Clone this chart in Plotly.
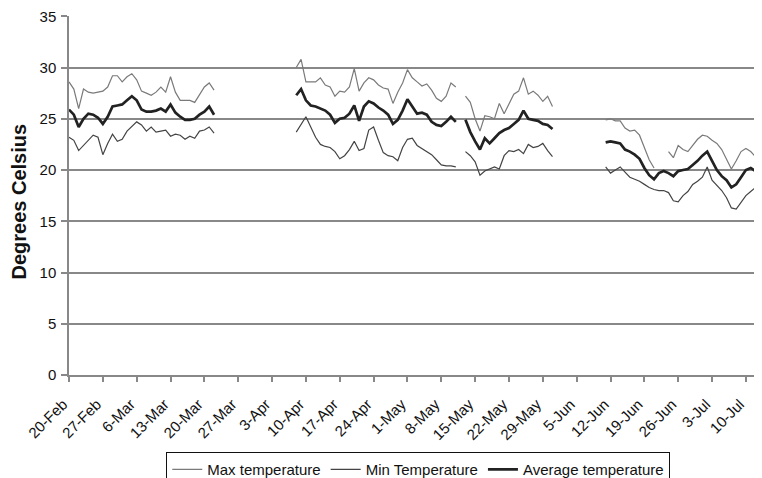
import pandas as pd
import plotly.graph_objects as go

START_DATE = "2007-02-20"

# Daily values from 20-Feb (None = no data)
MAX_TEMP = (
    [28.6, 27.9, 26.0, 27.9, 27.6, 27.5, 27.6, 27.7, 28.1, 29.2, 29.2, 28.6, 29.1, 29.4, 28.8, 27.7,
     27.5, 27.3, 27.6, 28.1, 27.6, 29.1, 27.6, 26.8, 26.8, 26.8, 26.6, 27.3, 28.1, 28.5, 27.8]
    + [None] * 16
    + [30.0, 30.8, 28.6, 28.6, 28.6, 29.0, 28.3, 28.1, 27.2, 27.7, 27.6, 28.1, 29.9, 27.7, 28.5, 29.0,
       28.8, 28.3, 28.0, 27.9, 26.5, 27.6, 28.5, 29.8, 29.0, 28.6, 28.2, 28.4, 27.8, 27.0, 26.7, 27.2,
       28.5, 28.1]
    + [None]
    + [27.2, 26.6, 25.0, 23.8, 25.3, 25.2, 25.0, 26.5, 25.5, 26.4, 27.4, 27.7, 29.0, 27.4, 27.7, 27.3,
       26.7, 27.2, 26.2]
    + [None] * 10
    + [24.9, 25.0, 24.8, 24.8, 24.1, 23.8, 23.9, 23.4, 22.2, 21.0, 20.2, None, None, 21.8, 21.2, 22.4,
       22.0, 21.8, 22.4, 23.0, 23.4, 23.3, 22.9, 22.6, 22.0, 21.0, 20.1, 20.9, 21.8, 22.1, 21.8, 21.3,
       21.0, 20.8]
)

MIN_TEMP = (
    [23.2, 22.9, 21.9, 22.4, 23.0, 23.4, 23.2, 21.5, 22.6, 23.5, 22.8, 23.0, 23.8, 24.3, 24.7, 24.4,
     23.8, 24.2, 23.7, 23.8, 23.9, 23.3, 23.5, 23.4, 23.0, 23.3, 23.1, 23.8, 23.9, 24.2, 23.6]
    + [None] * 16
    + [23.7, 24.5, 25.2, 24.2, 23.2, 22.5, 22.3, 22.2, 21.8, 21.1, 21.4, 22.0, 22.8, 21.9, 22.1, 23.9,
       24.2, 22.9, 21.7, 21.4, 21.3, 20.9, 22.2, 23.0, 23.1, 22.4, 22.1, 21.8, 21.5, 21.0, 20.5, 20.4,
       20.4, 20.3]
    + [None]
    + [21.8, 21.4, 20.8, 19.5, 19.9, 20.1, 20.3, 20.1, 21.4, 21.9, 21.8, 22.0, 21.6, 22.5, 22.2, 22.3,
       22.6, 21.9, 21.3]
    + [None] * 10
    + [20.3, 19.7, 20.0, 20.3, 19.8, 19.3, 19.1, 18.9, 18.6, 18.3, 18.1, 18.0, 18.0, 17.8, 17.0, 16.9,
       17.5, 17.9, 18.6, 18.9, 19.3, 20.3, 19.0, 18.5, 18.0, 17.3, 16.3, 16.2, 16.8, 17.5, 17.9, 18.3,
       18.6, 18.7]
)

AVG_TEMP = (
    [25.9, 25.4, 24.2, 25.0, 25.5, 25.4, 25.1, 24.5, 25.2, 26.2, 26.3, 26.4, 26.8, 27.2, 26.8, 25.9,
     25.7, 25.7, 25.8, 26.0, 25.7, 26.4, 25.6, 25.2, 24.9, 24.9, 25.0, 25.4, 25.7, 26.2, 25.4]
    + [None] * 16
    + [27.3, 27.9, 26.8, 26.3, 26.2, 26.0, 25.8, 25.4, 24.6, 25.0, 25.1, 25.5, 26.3, 24.8, 26.2, 26.7,
       26.5, 26.1, 25.8, 25.4, 24.5, 24.9, 25.8, 26.9, 26.2, 25.5, 25.6, 25.4, 24.7, 24.4, 24.3, 24.7,
       25.2, 24.7]
    + [None]
    + [24.9, 23.7, 22.8, 22.0, 23.1, 22.6, 23.1, 23.6, 23.9, 24.1, 24.5, 24.9, 25.8, 25.0, 24.9, 24.8,
       24.5, 24.4, 24.0]
    + [None] * 10
    + [22.7, 22.8, 22.7, 22.6, 22.0, 21.8, 21.5, 21.1, 20.2, 19.5, 19.1, 19.7, 19.9, 19.7, 19.4, 19.9,
       20.0, 20.1, 20.5, 20.9, 21.4, 21.8, 20.9, 20.0, 19.4, 19.0, 18.3, 18.6, 19.3, 20.0, 20.2, 19.9,
       19.6, 19.4]
)

TICK_LABELS = ["20-Feb", "27-Feb", "6-Mar", "13-Mar", "20-Mar", "27-Mar", "3-Apr", "10-Apr",
               "17-Apr", "24-Apr", "1-May", "8-May", "15-May", "22-May", "29-May", "5-Jun",
               "12-Jun", "19-Jun", "26-Jun", "3-Jul", "10-Jul"]

Y_TITLE = "Degrees Celsius"

dates = pd.date_range(START_DATE, periods=len(MAX_TEMP), freq="D")
tick_dates = pd.date_range(START_DATE, periods=len(TICK_LABELS), freq="7D")

FONT = "Liberation Sans, Arial, sans-serif"

fig = go.Figure()
fig.add_trace(go.Scatter(x=dates, y=MAX_TEMP, mode="lines", name="Max temperature",
                         line=dict(color="#7a7a7a", width=1.2), connectgaps=False))
fig.add_trace(go.Scatter(x=dates, y=MIN_TEMP, mode="lines", name="Min Temperature",
                         line=dict(color="#444444", width=1.2), connectgaps=False))
fig.add_trace(go.Scatter(x=dates, y=AVG_TEMP, mode="lines", name="Average temperature",
                         line=dict(color="#222222", width=2.7), connectgaps=False))

# the page adds an 8px body margin, so the figure is sized to fill the rest of the window
fig.update_layout(
    width=754, height=470,
    margin=dict(l=61, r=0, t=8, b=103, autoexpand=False),
    paper_bgcolor="white", plot_bgcolor="white",
    font=dict(family=FONT, size=15, color="#111111"),
    showlegend=True,
    legend=dict(orientation="h", x=0.504, xanchor="center", y=-0.215, yanchor="top",
                bordercolor="#111111", borderwidth=1, font=dict(size=15),
                itemwidth=30, tracegroupgap=0),
    xaxis=dict(
        type="date",
        range=["2007-02-20", "2007-07-13 08:00"],
        tickvals=list(tick_dates), ticktext=TICK_LABELS, tickangle=-45,
        ticks="outside", ticklen=5, tickcolor="#888888", tickwidth=1.5,
        showline=True, linecolor="#888888", linewidth=1.5,
        showgrid=False, zeroline=False,
        tickfont=dict(size=15),
        ticklabelshift=-6, ticklabelstandoff=8,
    ),
    yaxis=dict(
        range=[0, 35.03], tickvals=[0, 5, 10, 15, 20, 25, 30, 35],
        ticks="outside", ticklen=6, tickcolor="#888888", tickwidth=1.5,
        showline=True, linecolor="#888888", linewidth=1.5,
        showgrid=True, gridcolor="#888888", gridwidth=1.5,
        zeroline=False,
        tickfont=dict(size=15),
        ticklabelstandoff=2, ticklabeloverflow="allow",
    ),
    annotations=[dict(text="<b>" + Y_TITLE + "</b>", textangle=-90, showarrow=False,
                      xref="paper", yref="paper", x=-0.0728, y=0.482,
                      xanchor="center", yanchor="middle", borderpad=0,
                      font=dict(size=20, color="#111111"))],
)

fig.write_html("out.html")
